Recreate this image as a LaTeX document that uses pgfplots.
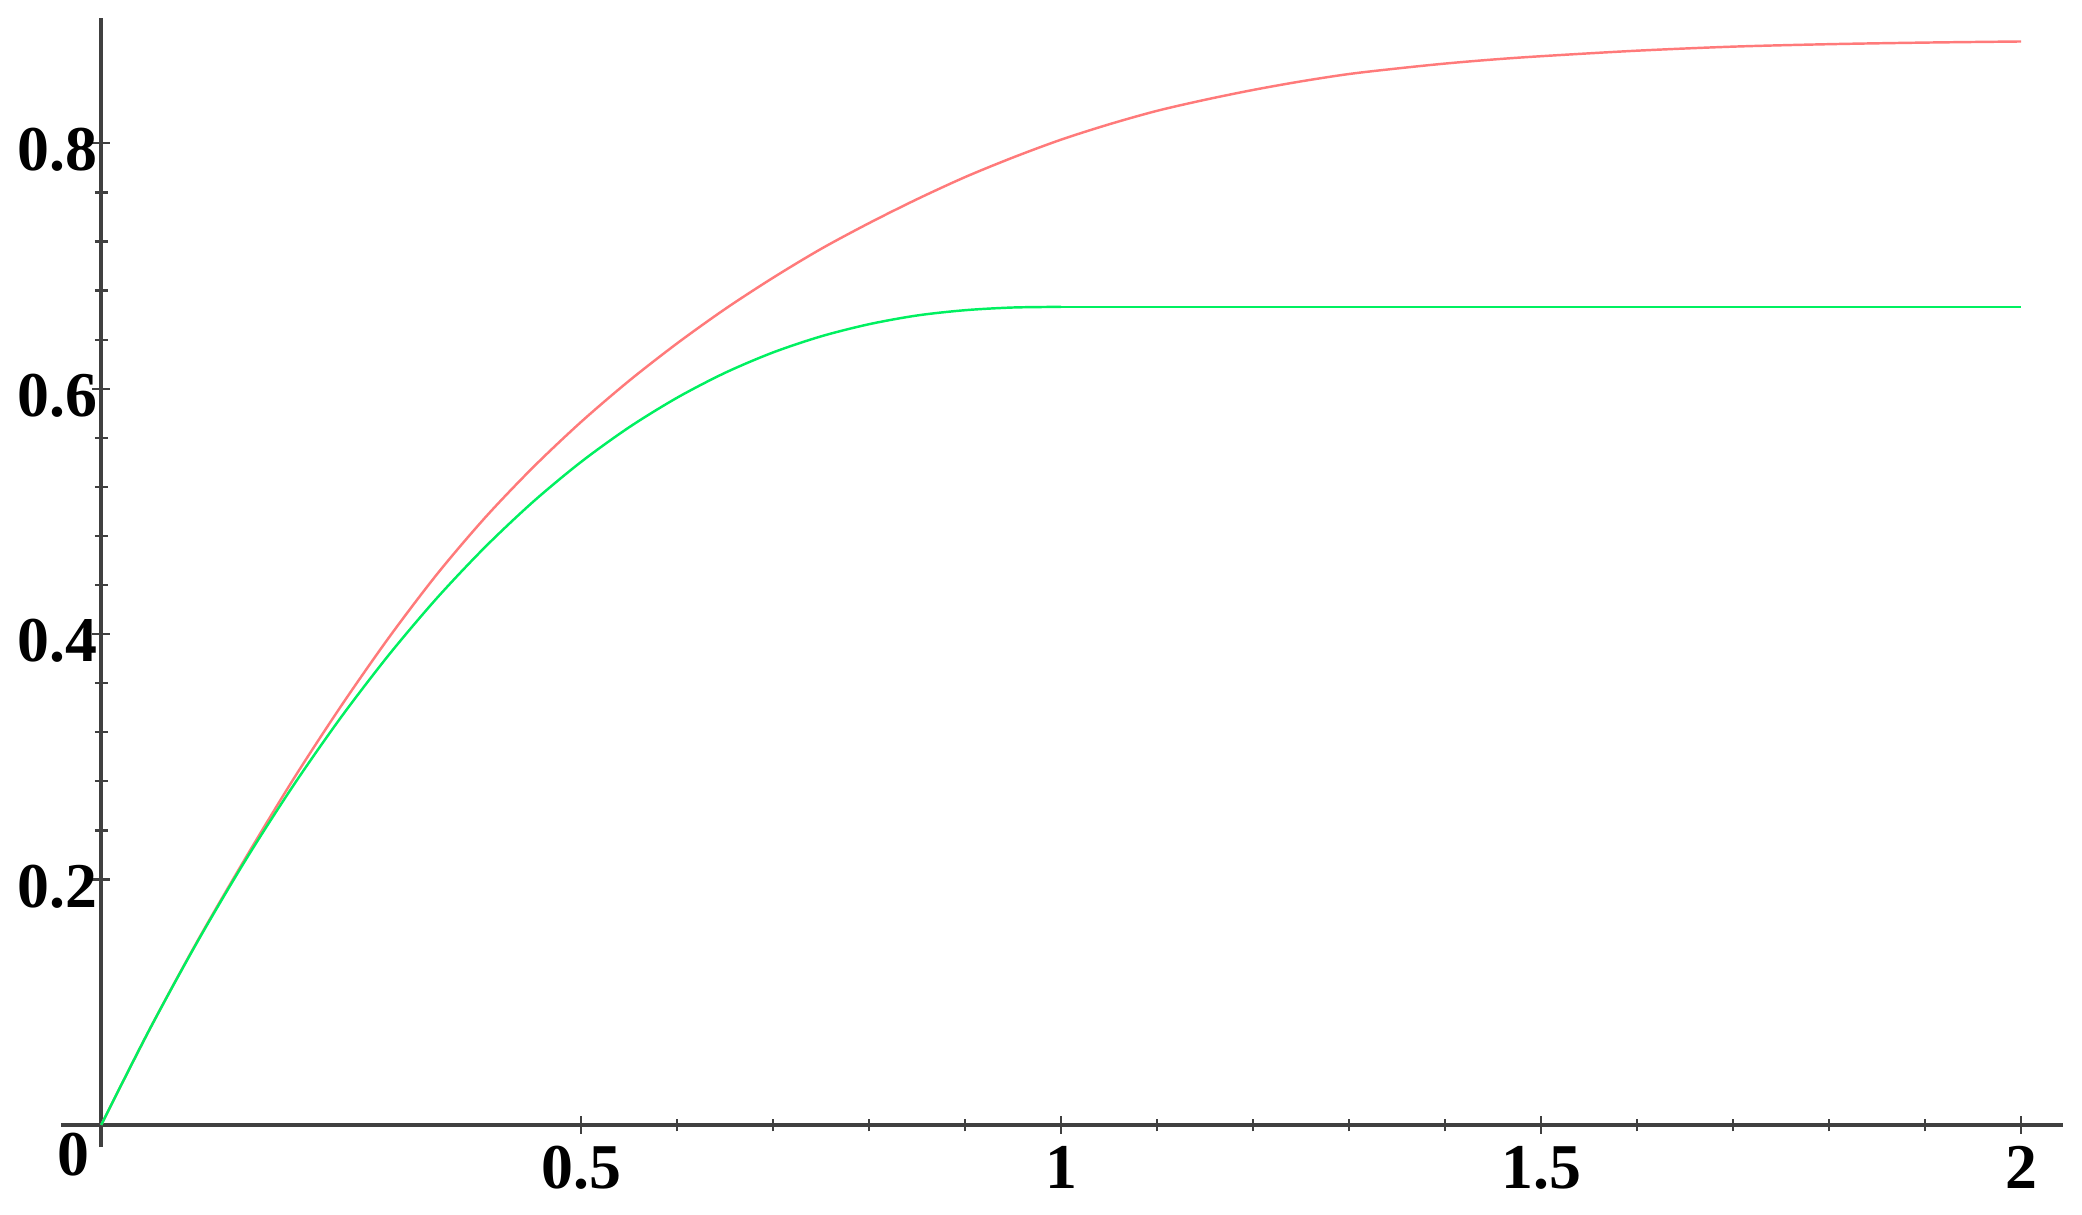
\documentclass[border=0pt]{standalone}
\usepackage{fontspec}
\setmainfont{Liberation Serif}
\usepackage{pgfplots}
\pgfplotsset{compat=1.18}

\definecolor{curvered}{HTML}{FF7A7A}
\definecolor{curvegreen}{HTML}{00F060}
\definecolor{axisgray}{HTML}{404040}

\begin{document}
\begin{tikzpicture}
\useasboundingbox (-12.4pt,-13.7pt) rectangle (411.8pt,233.7pt);
\begin{axis}[
    at={(0pt,0pt)}, anchor=south west,
    scale only axis,
    width=408pt,
    height=230pt,
    axis lines=middle,
    axis line style={-, axisgray, line width=0.75pt},
    xmin=-0.042, xmax=2.044,
    ymin=-0.018, ymax=0.902,
    xtick={0.5,1,1.5,2},
    xticklabels={0.5,1,1.5,2},
    ytick={0.2,0.4,0.6,0.8},
    yticklabels={0.2,0.4,0.6,0.8},
    extra x ticks={0},
    extra x tick labels={0},
    extra x tick style={major tick length=0pt, tick label style={xshift=-5.7pt, yshift=0.8pt}},
    minor x tick num=4,
    minor y tick num=4,
    tick align=center,
    major tick length=3.6pt,
    minor tick length=2.6pt,
    tick style={axisgray, line width=0.45pt},
    /pgf/number format/assume math mode=true,
    tick label style={font=\fontsize{13}{15}\selectfont\bfseries, black},
    x tick label style={yshift=1pt},
    y tick label style={xshift=4.5pt, yshift=-1.4pt},
    clip=false,
]

% upper curve
\addplot[curvered, line width=0.5pt, smooth] table {
x    y
0    0
0.05 0.0772
0.10 0.1495
0.15 0.2170
0.20 0.2815
0.25 0.3415
0.30 0.3975
0.35 0.4490
0.40 0.4950
0.45 0.5360
0.50 0.5730
0.55 0.6065
0.60 0.6370
0.65 0.6650
0.70 0.6905
0.75 0.7140
0.80 0.7350
0.85 0.7545
0.90 0.7725
0.95 0.7885
1.00 0.8030
1.05 0.8155
1.10 0.8265
1.15 0.8355
1.20 0.8435
1.25 0.8505
1.30 0.8565
1.35 0.8610
1.40 0.8650
1.45 0.8683
1.50 0.8710
1.60 0.8755
1.70 0.8788
1.80 0.8808
1.90 0.8821
2.00 0.8830
};

% lower curve, flat after x = 1
\addplot[curvegreen, line width=0.5pt, smooth] table {
x    y
0    0
0.05 0.0772
0.10 0.1489
0.15 0.2153
0.20 0.2764
0.25 0.3324
0.30 0.3834
0.35 0.4296
0.40 0.4710
0.45 0.5079
0.50 0.5404
0.55 0.5686
0.60 0.5927
0.65 0.6130
0.70 0.6296
0.75 0.6427
0.80 0.6526
0.85 0.6597
0.90 0.6640
0.95 0.6662
1.00 0.6667
};
\addplot[curvegreen, line width=0.5pt] table {
x    y
1.00 0.6667
2.00 0.6667
};

\end{axis}
\end{tikzpicture}
\end{document}
